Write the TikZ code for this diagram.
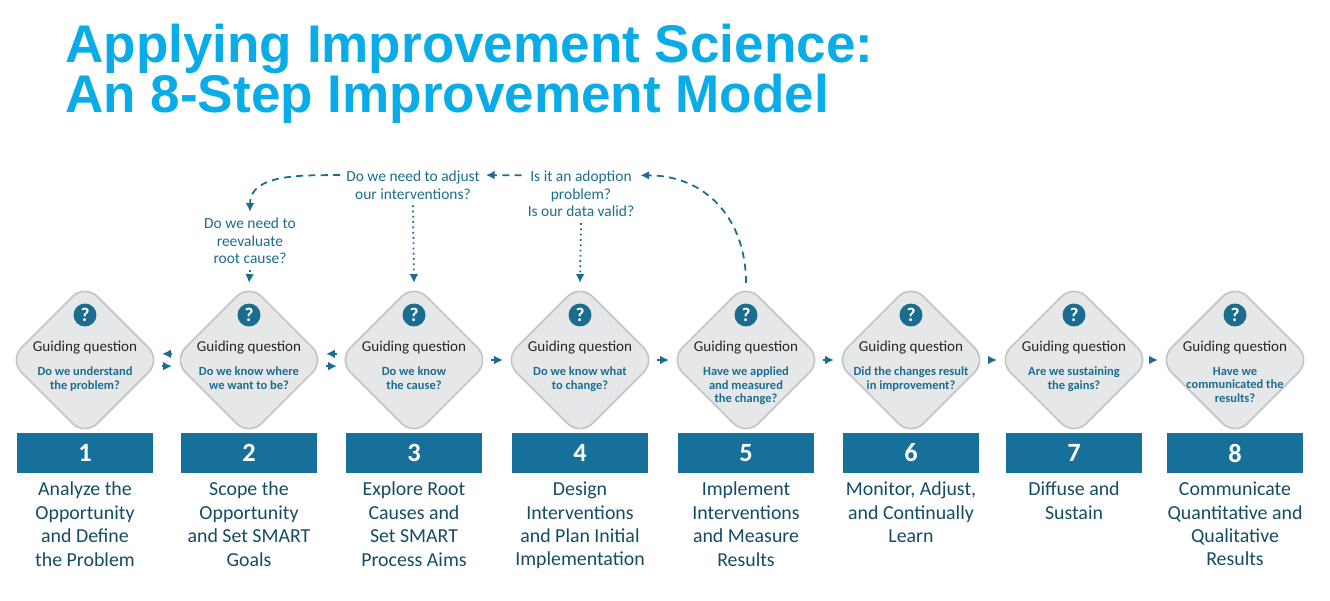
\documentclass[tikz,border=0pt]{standalone}
\usepackage{fontspec}
\setmainfont{Carlito}
\newfontfamily\titlefont{Liberation Sans}
\usetikzlibrary{shapes.geometric,arrows.meta}
\definecolor{teal1}{HTML}{1B6D8F}
\definecolor{boxblue}{HTML}{17709A}
\definecolor{titleblue}{HTML}{0AACE8}
\definecolor{dgray}{HTML}{E6E7E8}
\definecolor{lgray}{HTML}{C6C6C6}
\tikzset{
  gq/.style={diamond,aspect=1,fill=dgray,draw=lgray,line width=1pt,rounded corners=10pt,minimum width=3.05cm,minimum height=3.05cm,inner sep=0pt},
  qicon/.style={circle,fill=teal1,text=white,inner sep=0pt,minimum size=0.46cm,font=\bfseries\fontsize{11}{11}\selectfont},
  gqtext/.style={font=\fontsize{8.6}{9}\selectfont,text=black!85},
  subq/.style={font=\bfseries\fontsize{7.1}{7.6}\selectfont,text=teal1,align=center},
  numbox/.style={fill=boxblue,text=white,minimum width=2.74cm,minimum height=0.8cm,font=\bfseries\fontsize{15}{15}\selectfont},
  steplbl/.style={font=\fontsize{11.3}{13.3}\selectfont,text=teal1!70!black,align=center,anchor=north},
  topq/.style={font=\fontsize{8.8}{10}\selectfont,text=teal1,align=center},
  flow/.style={teal1,line width=1pt,-{Latex[length=5pt,width=5pt]}},
  back/.style={flow,dash pattern=on 4pt off 3pt},
  dot/.style={flow,dotted}
}
\begin{document}
\begin{tikzpicture}[x=0.02cm,y=-0.02cm]
\useasboundingbox (0,0) rectangle (1330,601);

% title
\node[anchor=base west,inner sep=0pt,text=titleblue,font=\titlefont\bfseries\fontsize{30.2}{36}\selectfont] (title1) at (65,63) {Applying Improvement Science:};
\node[anchor=base west,inner sep=0pt,text=titleblue,font=\titlefont\bfseries\fontsize{30.2}{36}\selectfont] (title2) at (65,113) {An 8-Step Improvement Model};

% steps
\foreach \i/\cx/\q/\lbl in {
  1/85/{Do we understand\\the problem?}/{Analyze the\\Opportunity\\and Define\\the Problem},
  2/249/{Do we know where\\we want to be?}/{Scope the\\Opportunity\\and Set SMART\\Goals},
  3/414/{Do we know\\the cause?}/{Explore Root\\Causes and\\Set SMART\\Process Aims},
  4/580/{Do we know what\\to change?}/{Design\\Interventions\\and Plan Initial\\Implementation},
  5/746/{Have we applied\\and measured\\the change?}/{Implement\\Interventions\\and Measure\\Results},
  6/911/{Did the changes result\\in improvement?}/{Monitor, Adjust,\\and Continually\\Learn},
  7/1074/{Are we sustaining\\the gains?}/{Diffuse and\\Sustain},
  8/1235/{Have we\\communicated the\\results?}/{Communicate\\Quantitative and\\Qualitative\\Results}}{
  \node[gq] (d\i) at (\cx,360) {};
  \node[qicon] (ic\i) at (\cx,315) {?};
  \node[gqtext] (g\i) at (\cx,348) {Guiding question};
  \node[subq,anchor=north] (s\i) at (\cx,361) {\q};
  \node[numbox] (n\i) at (\cx,453) {\i};
  \node[steplbl] (l\i) at (\cx,476) {\lbl};
}

% flow between steps
\foreach \a/\b in {1/2,2/3}{
  \draw[flow] ([yshift=-3.5pt]d\a.east) -- ([yshift=-3.5pt]d\b.west);
  \draw[back] ([yshift=3.5pt]d\b.west) -- ([yshift=3.5pt]d\a.east);
}
\foreach \a/\b in {3/4,4/5,5/6,6/7,7/8}
  \draw[flow] (d\a.east) -- (d\b.west);

% feedback questions
\node[topq] (qroot) at (250,241) {Do we need to\\reevaluate\\root cause?};
\node[topq] (qadj) at (413,185) {Do we need to adjust\\our interventions?};
\node[topq] (qadopt) at (581,194) {Is it an adoption\\problem?\\Is our data valid?};

\draw[dot] (qroot.south) -- (d2.north);
\draw[dot] (qadj.south) -- (d3.north);
\draw[dot] (qadopt.south) -- (d4.north);
\draw[back] (d5.north) to[out=90,in=0,looseness=1.1] ([yshift=-6pt]qadopt.north east);
\draw[back] ([yshift=-6pt]qadopt.north west) -- ([yshift=-6pt]qadj.north east);
\draw[back] ([yshift=-6pt]qadj.north west) to[out=180,in=90] (qroot.north);
\end{tikzpicture}
\end{document}
